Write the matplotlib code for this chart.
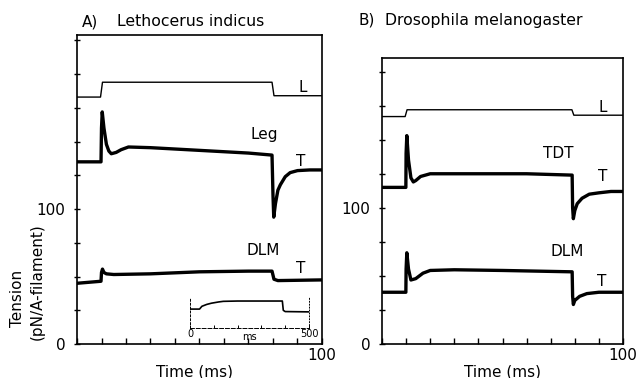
import matplotlib
matplotlib.use("Agg")
import matplotlib.pyplot as plt

# --- A) Lethocerus indicus (time in ms, tension in pN/A-filament) ---
a_L_t = [0, 9.6, 10.4, 79.6, 80.4, 100]
a_L_v = [183, 183, 194, 194, 184, 184]

a_leg_t = [0, 9.8, 10, 10.3, 11, 12, 13, 14, 16, 18, 21, 30, 50, 70, 79.6,
           80, 80.3, 81, 82, 83, 85, 87, 90, 95, 100]
a_leg_v = [135, 135, 160, 172, 160, 148, 143, 141, 142, 144, 146, 145.5, 143.5, 141.5, 140,
           110, 94, 104, 114, 118, 124, 127, 128.5, 129, 129]

a_dlm_t = [0, 9.8, 10, 10.4, 11, 12, 15, 30, 50, 70, 79.6, 80.4, 82, 100]
a_dlm_v = [45, 46.5, 53, 55.5, 53, 52, 51.5, 52, 53.5, 54, 54, 48, 47, 47.5]

# inset: same DLM record on a 500 ms time base (arbitrary units)
inset_t = [0, 40, 50, 70, 90, 120, 140, 200, 300, 388, 392, 400, 500]
inset_v = [0.61, 0.61, 0.70, 0.76, 0.80, 0.84, 0.86, 0.87, 0.87, 0.87, 0.57, 0.53, 0.52]

# --- B) Drosophila melanogaster ---
b_L_t = [0, 9.6, 10.4, 78.8, 79.6, 100]
b_L_v = [167, 167, 172, 172, 168, 168]

b_tdt_t = [0, 9.9, 10, 10.3, 11, 12, 13, 14, 16, 20, 40, 60, 78.9,
           79.1, 79.4, 80, 81, 83, 86, 90, 95, 100]
b_tdt_v = [115, 115, 140, 153, 135, 122, 119, 120, 123, 125, 125, 125, 124,
           100, 92, 98, 103, 107, 110, 111, 112, 112]

b_dlm_t = [0, 9.9, 10, 10.3, 11, 12, 14, 17, 20, 30, 50, 78.9,
           79.1, 79.4, 80, 82, 85, 90, 100]
b_dlm_v = [38, 38, 55, 67, 55, 47, 48, 52, 54, 54.5, 54, 53,
           35, 29, 32, 35, 37, 38, 38]

FONT = "DejaVu Sans"
plt.rcParams["font.family"] = FONT


def style_axes(ax, ymax):
    ax.set_xlim(0, 100)
    ax.set_ylim(0, ymax)
    for s in ax.spines.values():
        s.set_linewidth(1.2)
    ax.set_xticks(range(0, 101, 10))
    ax.set_xticklabels(["" if t != 100 else "100" for t in range(0, 101, 10)])
    yt = list(range(0, int(ymax) + 1, 25))
    ax.set_yticks(yt)
    ax.set_yticklabels(["0" if t == 0 else ("100" if t == 100 else "") for t in yt])
    ax.tick_params(axis="x", direction="in", length=4, width=1, labelsize=11, pad=3)
    ax.tick_params(axis="y", direction="inout", length=5, width=1, labelsize=11, pad=6)


fig = plt.figure(figsize=(6.41, 3.78), dpi=100)

# panel A
axA = fig.add_axes([77 / 641, 34 / 378, 245 / 641, 309 / 378])
style_axes(axA, 229)
axA.plot(a_L_t, a_L_v, color="black", lw=1.0)
axA.plot(a_leg_t, a_leg_v, color="black", lw=2.4)
axA.plot(a_dlm_t, a_dlm_v, color="black", lw=2.4)
axA.text(92, 190, "L", ha="center", va="center", fontsize=11)
axA.text(76.5, 155, "Leg", ha="center", va="center", fontsize=11)
axA.text(91.5, 135.5, "T", ha="center", va="center", fontsize=11)
axA.text(76, 69, "DLM", ha="center", va="center", fontsize=11)
axA.text(91.5, 56, "T", ha="center", va="center", fontsize=11)

# inset
axI = fig.add_axes([190 / 641, 50 / 378, 119 / 641, 31 / 378])
axI.plot(inset_t, inset_v, color="black", lw=1.2)
axI.set_xlim(0, 500)
axI.set_ylim(0, 1)
axI.patch.set_alpha(0)
axI.spines["top"].set_visible(False)
axI.spines["bottom"].set_linestyle((0, (4, 2)))
axI.spines["left"].set_linestyle((0, (2, 2)))
axI.spines["right"].set_linestyle((0, (1, 2)))
for s in axI.spines.values():
    s.set_linewidth(0.7)
axI.set_xticks([0, 100, 200, 300, 400, 500])
axI.set_xticklabels(["0", "", "", "", "", "500"])
axI.set_yticks([])
axI.tick_params(axis="x", direction="in", length=2, width=0.7, labelsize=7, pad=1)
axI.text(250, -0.12, "ms", ha="center", va="top", fontsize=7)

# panel B
axB = fig.add_axes([382 / 641, 34 / 378, 241 / 641, 286 / 378])
style_axes(axB, 210)
axB.plot(b_L_t, b_L_v, color="black", lw=1.0)
axB.plot(b_tdt_t, b_tdt_v, color="black", lw=2.4)
axB.plot(b_dlm_t, b_dlm_v, color="black", lw=2.4)
axB.text(91.5, 174, "L", ha="center", va="center", fontsize=11)
axB.text(73, 140, "TDT", ha="center", va="center", fontsize=11)
axB.text(91.7, 123, "T", ha="center", va="center", fontsize=11)
axB.text(77, 68, "DLM", ha="center", va="center", fontsize=11)
axB.text(91, 46, "T", ha="center", va="center", fontsize=11)

# titles and axis labels
fig.text(82 / 641, 1 - 22 / 378, "A)", ha="left", va="center", fontsize=11)
fig.text(117 / 641, 1 - 22 / 378, "Lethocerus indicus", ha="left", va="center", fontsize=11.3)
fig.text(358 / 641, 1 - 20 / 378, "B)", ha="left", va="center", fontsize=11)
fig.text(385 / 641, 1 - 20 / 378, "Drosophila melanogaster", ha="left", va="center", fontsize=11.3)

fig.text(18 / 641, 1 - 298 / 378, "Tension", rotation=90, ha="center", va="center", fontsize=11)
fig.text(37 / 641, 1 - 282 / 378, "(pN/A-filament)", rotation=90, ha="center", va="center", fontsize=11)

fig.text(194 / 641, 1 - 372 / 378, "Time (ms)", ha="center", va="center", fontsize=11)
fig.text(503 / 641, 1 - 372 / 378, "Time (ms)", ha="center", va="center", fontsize=11)

fig.savefig("out.png", dpi=100)
